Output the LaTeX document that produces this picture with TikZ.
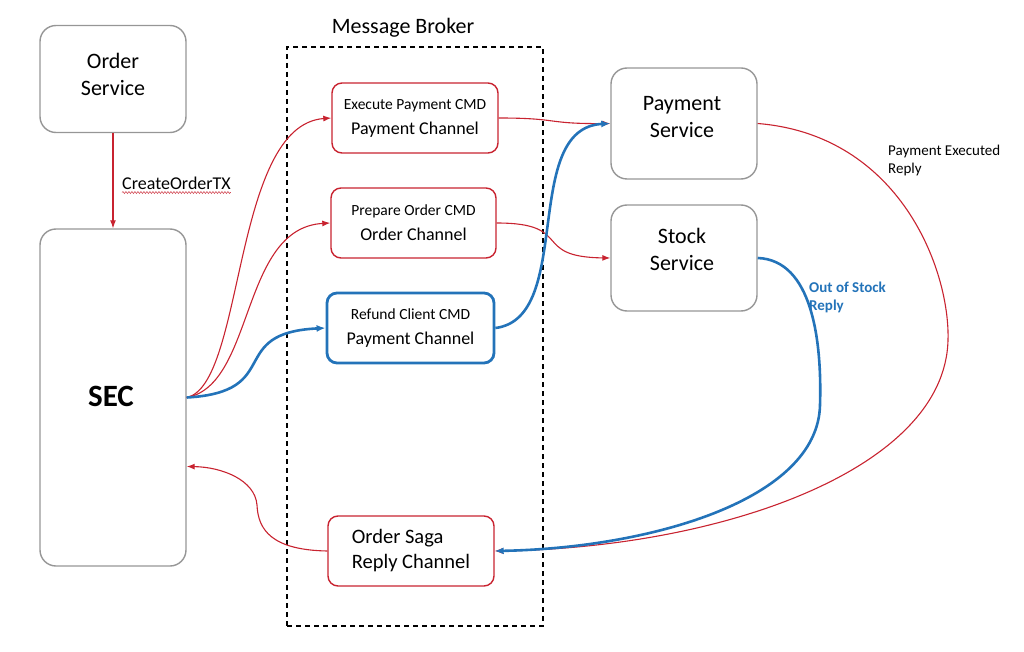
\documentclass[tikz,border=0pt]{standalone}
\usepackage{fontspec}
\setmainfont{Carlito}
\usetikzlibrary{arrows.meta,decorations.pathmorphing}
\definecolor{cred}{RGB}{200,35,48}
\definecolor{cblue}{RGB}{35,115,185}
\definecolor{cgray}{RGB}{150,150,150}
\newcommand\cmdfont{\fontsize{15.5}{19}\selectfont}
\begin{document}
\begin{tikzpicture}[x=1pt,y=-1pt,
  svc/.style={draw=cgray, line width=1.4pt, rounded corners=16pt, inner sep=0pt},
  svctext/.style={align=center, inner sep=0pt, font=\fontsize{22}{27}\selectfont},
  chan/.style={draw=cred, line width=1.4pt, rounded corners=10pt, inner sep=0pt, align=center,
    font=\fontsize{18}{21}\selectfont},
  chanb/.style={chan, draw=cblue, line width=2.8pt},
  rline/.style={draw=cred, line width=1.1pt, -{Latex[length=8pt,width=6pt]}},
  bline/.style={draw=cblue, line width=2.6pt, -{Latex[length=9pt,width=7pt]}},
]
\useasboundingbox (0,0) rectangle (1024,652);

% message broker frame
\node[draw, line width=1.2pt, dash pattern=on 5pt off 4pt, minimum width=256pt, minimum height=579pt, inner sep=0pt] (broker) at (415,336.5) {};
\node[font=\fontsize{22}{26}\selectfont] (mb) at (403,28) {Message Broker};

% services
\node[svc, minimum width=146pt, minimum height=107pt] (order) at (113,79) {};
\node[svctext] (ordert) at (113,74.5) {Order\\Service};
\node[svc, minimum width=146pt, minimum height=337pt] (sec) at (113,397.5) {};
\node[font=\fontsize{31}{36}\selectfont\bfseries] (seclbl) at (111,396) {SEC};
\node[svc, minimum width=146pt, minimum height=111pt] (pay) at (684,123.5) {};
\node[svctext] (payt) at (682,117.5) {Payment\\Service};
\node[svc, minimum width=146pt, minimum height=106pt] (stock) at (684,258) {};
\node[svctext] (stockt) at (682,249.5) {Stock\\Service};

% channels
\node[chan, minimum width=166pt, minimum height=70pt] (exec) at (415,118)
  {{\cmdfont Execute Payment CMD}\\[4pt]Payment Channel};
\node[chan, minimum width=165pt, minimum height=70pt] (prep) at (413.5,223)
  {{\cmdfont Prepare Order CMD}\\[4pt]Order Channel};
\node[chanb, minimum width=167pt, minimum height=70pt] (refund) at (410.5,328)
  {{\cmdfont Refund Client CMD}\\[4pt]Payment Channel};
\node[chan, minimum width=166pt, minimum height=70pt, align=left, font=\fontsize{20.5}{25}\selectfont] (saga) at (411,551)
  {Order Saga\\Reply Channel};

% labels
\node[font=\fontsize{18}{21}\selectfont, anchor=west, inner sep=0pt] (ctx) at (122,183) {CreateOrderTX};
\draw[cred!80, line width=0.6pt, decorate, decoration={snake, amplitude=1pt, segment length=3pt}]
  ([yshift=-3pt]ctx.south west) -- ([yshift=-3pt]ctx.south east);
\node[font=\fontsize{15}{18}\selectfont, align=left, anchor=west, inner sep=0pt] (perl) at (888,161) {Payment Executed\\Reply};
\node[font=\fontsize{15}{18}\selectfont\bfseries, text=cblue, align=left, anchor=west, inner sep=0pt] (oosl) at (809,297) {Out of Stock\\Reply};

% connectors
\draw[rline] (order.south) -- (sec.north);
\draw[rline] (sec.east) .. controls (245,385) and (232,125) .. (exec.west);
\draw[rline] (sec.east) .. controls (255,385) and (240,228) .. (prep.west);
\draw[bline] (sec.east) .. controls (285,392) and (225,333) .. (refund.west);
\draw[rline] (exec.east) .. controls (560,118) and (545,124) .. (pay.west);
\draw[rline] (prep.east) .. controls (575,223) and (530,257) .. (stock.west);
\draw[bline] (refund.east) .. controls (575,318) and (520,128) .. (pay.west);
\draw[rline] (pay.east) .. controls (900,135) and (950,270) .. (948,340)
  .. controls (945,470) and (720,548) .. (saga.east);
\draw[bline] (stock.east) .. controls (812,260) and (822,340) .. (820,405)
  .. controls (818,500) and (650,548) .. (saga.east);
\draw[rline] (saga.west) .. controls (272,550) and (258,530) .. (257,505)
  .. controls (255,480) and (222,467) .. ([yshift=-69pt]sec.east);
\end{tikzpicture}
\end{document}
